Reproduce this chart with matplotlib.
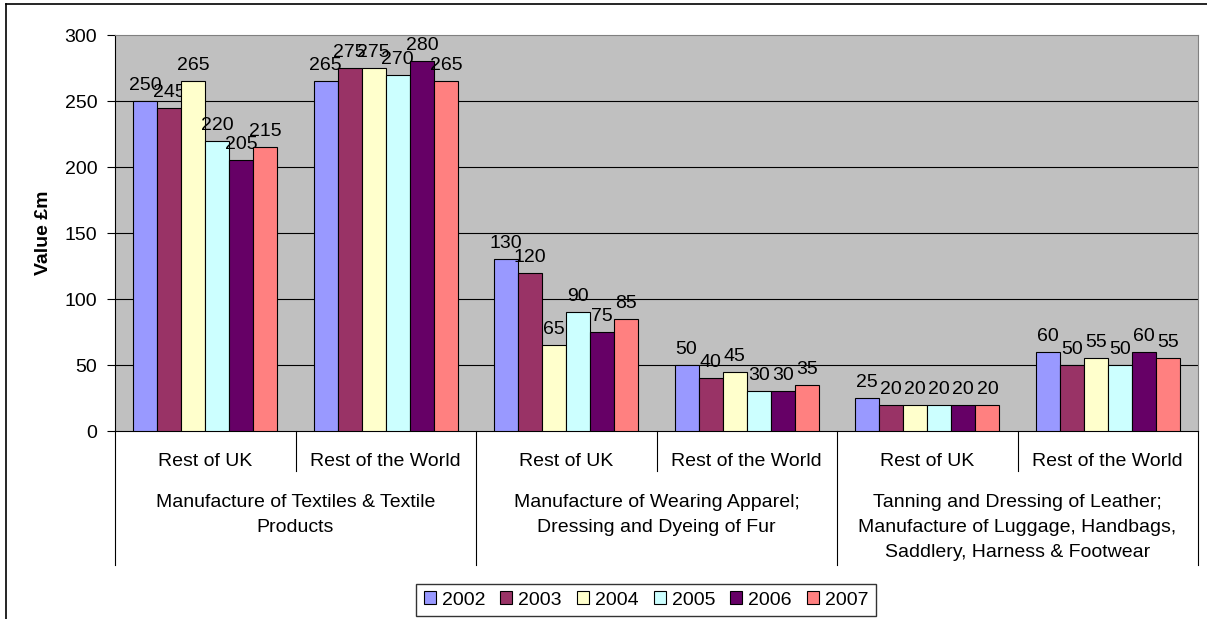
import matplotlib.pyplot as plt
from matplotlib.lines import Line2D
from matplotlib.patches import Patch

plt.rcParams['font.family'] = ['Liberation Sans', 'DejaVu Sans']

years = ['2002', '2003', '2004', '2005', '2006', '2007']
colors = ['#9999FF', '#993366', '#FFFFCC', '#CCFFFF', '#660066', '#FF8080']

regions = ['Rest of UK', 'Rest of the World'] * 3
sectors = ['Manufacture of Textiles & Textile\nProducts',
           'Manufacture of Wearing Apparel;\nDressing and Dyeing of Fur',
           'Tanning and Dressing of Leather;\nManufacture of Luggage, Handbags,\nSaddlery, Harness & Footwear']

# one list per year, six region/sector slots each
v2002 = [250, 265, 130, 50, 25, 60]
v2003 = [245, 275, 120, 40, 20, 50]
v2004 = [265, 275, 65, 45, 20, 55]
v2005 = [220, 270, 90, 30, 20, 50]
v2006 = [205, 280, 75, 30, 20, 60]
v2007 = [215, 265, 85, 35, 20, 55]
series = [v2002, v2003, v2004, v2005, v2006, v2007]

FS = 14

W, H = 1207, 619
fig = plt.figure(figsize=(W / 100, H / 100), dpi=100)
left, right, top, bottom = 115, 1198, 35, 431
ax = fig.add_axes([left / W, 1 - bottom / H, (right - left) / W, (bottom - top) / H])
ax_h = bottom - top

ax.set_facecolor('#C0C0C0')
x = list(range(len(regions)))
bw = 1 / 7.5
for i, (vals, c) in enumerate(zip(series, colors)):
    pos = [p + (i - 2.5) * bw for p in x]
    bars = ax.bar(pos, vals, bw, color=c, edgecolor='black', linewidth=0.8,
                  label=years[i], zorder=3)
    ax.bar_label(bars, padding=5, fontsize=FS)

ax.set_xlim(-0.5, 5.5)
ax.set_ylim(0, 300)
ax.set_yticks(range(0, 301, 50))
ax.tick_params(axis='y', direction='out', length=5.8, width=0.8, labelsize=FS, pad=7)
ax.set_xticks([])
for yv in range(50, 300, 50):
    ax.axhline(yv, color='black', linewidth=0.8, zorder=1)
ax.spines['top'].set_color('#808080')
ax.spines['right'].set_color('#808080')
ax.spines['left'].set_linewidth(0.8)
ax.spines['bottom'].set_linewidth(0.8)
fig.text(44 / W, 1 - 233 / H, 'Value £m', rotation=90, ha='center', va='center',
         fontsize=FS, fontweight='bold')

# two-level category axis
tr = ax.get_xaxis_transform()
for b in [0.5, 2.5, 4.5]:
    ax.add_line(Line2D([b, b], [0, -40 / ax_h], transform=tr, color='black',
                       linewidth=0.8, clip_on=False))
for b in [-0.5, 1.5, 3.5, 5.5]:
    ax.add_line(Line2D([b, b], [0, -134 / ax_h], transform=tr, color='black',
                       linewidth=0.8, clip_on=False))
for p, r in zip(x, regions):
    ax.text(p, -31 / ax_h, r, transform=tr, ha='center', va='center', fontsize=FS)
for k, s in enumerate(sectors):
    ax.text(2 * k + 0.5, -63 / ax_h, s, transform=tr, ha='center', va='top',
            fontsize=FS, linespacing=1.6)

# outer chart frame
fig.add_artist(Line2D([6 / W, 1], [1 - 4 / H, 1 - 4 / H], color='black', linewidth=1.2))
fig.add_artist(Line2D([6 / W, 6 / W], [0, 1 - 4 / H], color='black', linewidth=1.2))

handles = [Patch(facecolor=c, edgecolor='black', linewidth=0.8) for c in colors]
leg = fig.legend(handles, years, loc='center', bbox_to_anchor=(646 / W, 1 - 600 / H),
                 ncol=6, fontsize=FS, frameon=True, fancybox=False, edgecolor='black',
                 handlelength=0.62, handleheight=0.62, handletextpad=0.31,
                 columnspacing=0.77, borderpad=0.4, borderaxespad=0)
leg.get_frame().set_linewidth(1.0)

fig.savefig('out.png', dpi=100)
